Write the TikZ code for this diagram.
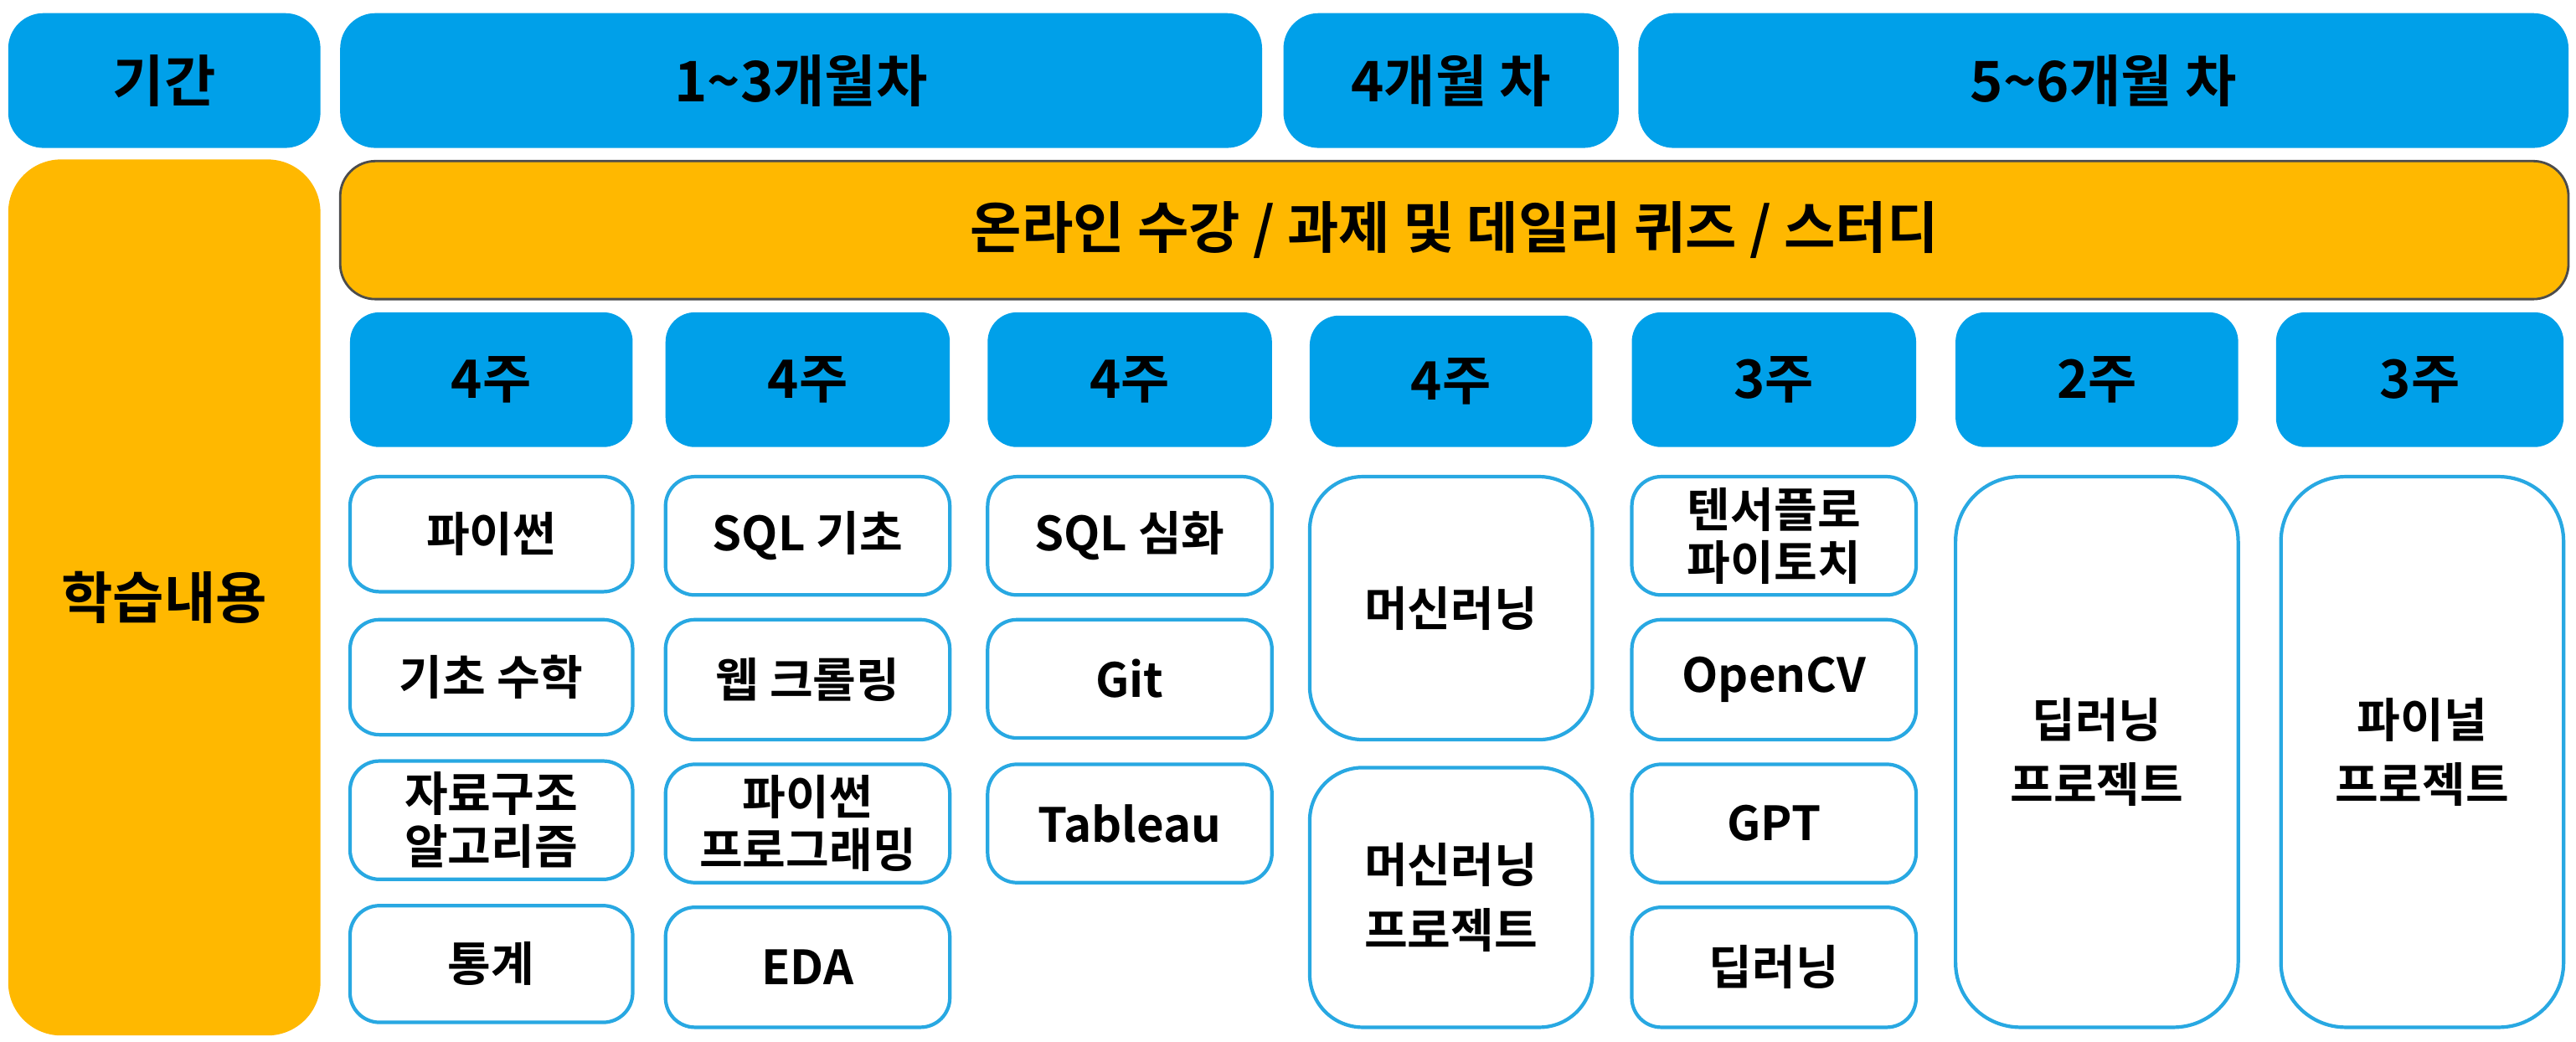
\documentclass[tikz,border=0pt]{standalone}
\usepackage{fontspec}
\setmainfont{Noto Sans CJK KR}[BoldFont={Noto Sans CJK KR Bold}]
\usetikzlibrary{positioning}
\definecolor{headblue}{RGB}{0,160,233}
\definecolor{studyorange}{RGB}{255,184,0}
\definecolor{itemline}{RGB}{40,168,226}
\tikzset{
    head/.style={fill=headblue,draw=none,rounded corners=12pt,font=\bfseries\fontsize{19}{22}\selectfont,align=center},
    study/.style={fill=studyorange,draw=none,rounded corners=18pt,font=\bfseries\fontsize{19}{22}\selectfont,align=center},
    week/.style={fill=headblue,draw=none,rounded corners=10pt,font=\bfseries\fontsize{18}{21}\selectfont,align=center},
    item/.style={fill=white,draw=itemline,line width=1.2pt,rounded corners=10pt,font=\bfseries\fontsize{16}{22}\selectfont,align=center}
}
% box from corner (x1,y1) to (x2,y2), in reference pixels
\newcommand{\cell}[7]{%
    \node[#6,minimum width={(#4-#2)*0.01962cm},minimum height={(#5-#3)*0.01962cm},inner sep=0pt]
        (#1) at ({(#2+#4)/2*0.01962},{-(#3+#5)/2*0.01962}) {#7};}

\begin{document}
\begin{tikzpicture}
    \fill[white] (0,0) rectangle (30.76,-12.44);
    % period row
    \cell{period}{5}{8}{195}{90}{head}{기간}
    \cell{m13}{207}{8}{768}{90}{head}{1\textasciitilde3개월차}
    \cell{m4}{781}{8}{985}{90}{head}{4개월 차}
    \cell{m56}{997}{8}{1563}{90}{head}{5\textasciitilde6개월 차}
    % study content
    \cell{content}{5}{97}{195}{630}{study}{학습내용}
    \cell{online}{207}{98}{1563}{182}{study,rounded corners=12pt,draw=black!70,line width=0.8pt}{온라인 수강 / 과제 및 데일리 퀴즈 / 스터디}
    % weeks
    \cell{w1}{213}{190}{385}{272}{week}{4주}
    \cell{w2}{405}{190}{578}{272}{week}{4주}
    \cell{w3}{601}{190}{774}{272}{week}{4주}
    \cell{w4}{797}{192}{969}{272}{week}{4주}
    \cell{w5}{993}{190}{1166}{272}{week}{3주}
    \cell{w6}{1190}{190}{1362}{272}{week}{2주}
    \cell{w7}{1385}{190}{1560}{272}{week}{3주}
    % column 1
    \cell{python}{213}{290}{385}{360}{item}{파이썬}
    \cell{math}{213}{377}{385}{447}{item}{기초 수학}
    \cell{algo}{213}{463}{385}{535}{item}{자료구조\\[-4pt]알고리즘}
    \cell{stats}{213}{551}{385}{622}{item}{통계}
    % column 2
    \cell{sqlbase}{405}{290}{578}{362}{item}{SQL 기초}
    \cell{crawl}{405}{377}{578}{450}{item}{웹 크롤링}
    \cell{pyprog}{405}{465}{578}{537}{item}{파이썬\\[-4pt]프로그래밍}
    \cell{eda}{405}{552}{578}{625}{item}{EDA}
    % column 3
    \cell{sqladv}{601}{290}{774}{362}{item}{SQL 심화}
    \cell{git}{601}{377}{774}{449}{item}{Git}
    \cell{tableau}{601}{465}{774}{537}{item}{Tableau}
    % column 4
    \cell{ml}{797}{290}{969}{450}{item,rounded corners=18pt}{머신러닝}
    \cell{mlproj}{797}{467}{969}{625}{item,rounded corners=18pt}{머신러닝\\프로젝트}
    % column 5
    \cell{tf}{993}{290}{1166}{362}{item}{텐서플로\\[-4pt]파이토치}
    \cell{cv}{993}{377}{1166}{450}{item}{OpenCV}
    \cell{gpt}{993}{465}{1166}{537}{item}{GPT}
    \cell{dl}{993}{552}{1166}{625}{item}{딥러닝}
    % columns 6 and 7
    \cell{dlproj}{1190}{290}{1362}{625}{item,rounded corners=22pt}{딥러닝\\프로젝트}
    \cell{final}{1388}{290}{1560}{625}{item,rounded corners=22pt}{파이널\\프로젝트}
\end{tikzpicture}
\end{document}
